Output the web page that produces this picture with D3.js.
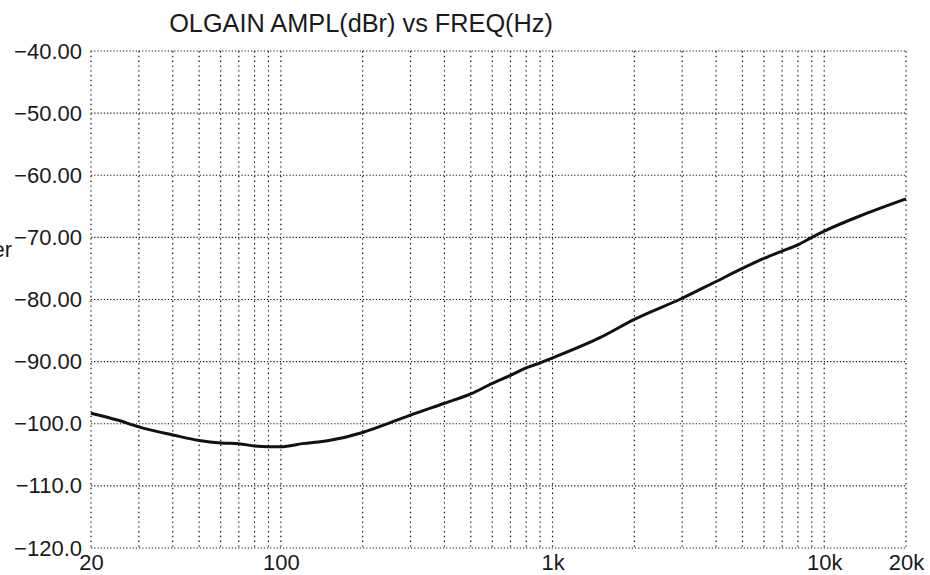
<!DOCTYPE html>
<html>
<head>
<meta charset="utf-8">
<script src="https://cdn.jsdelivr.net/npm/d3@7"></script>
<style>
  html, body { margin: 0; padding: 0; background: #fff; }
  svg { display: block; }
  text { font-family: "Liberation Sans", Arial, sans-serif; fill: #1a1a1a; }
</style>
</head>
<body>
<svg id="chart" width="930" height="575"></svg>
<script>
// ---- data ----
const title = "OLGAIN AMPL(dBr) vs FREQ(Hz)";
const freqHz = [20, 25, 30, 40, 50, 60, 70, 80, 90, 100, 120, 150, 200, 250, 300, 400, 500, 600, 700, 800, 900,
                1000, 1500, 2000, 3000, 4000, 5000, 6000, 7000, 8000, 9000, 10000, 14000, 20000];
const ampDbr = [-98.3, -99.4, -100.5, -101.8, -102.7, -103.1, -103.2, -103.6, -103.7, -103.7, -103.2, -102.7, -101.4,
                -99.9, -98.6, -96.7, -95.2, -93.5, -92.2, -91.0, -90.2,
                -89.4, -86.1, -83.2, -79.8, -77.1, -75.0, -73.4, -72.2, -71.2, -70.0, -69.0, -66.3, -63.8];
const yTicks = [-40, -50, -60, -70, -80, -90, -100, -110, -120];
const yTickLabels = ["\u221240.00", "\u221250.00", "\u221260.00", "\u221270.00", "\u221280.00", "\u221290.00",
                     "\u2212100.0", "\u2212110.0", "\u2212120.0"];
const xTicks = [20, 100, 1000, 10000, 20000];
const xTickLabels = ["20", "100", "1k", "10k", "20k"];
const xGrid = [20, 30, 40, 50, 60, 70, 80, 90, 100, 200, 300, 400, 500, 600, 700, 800, 900,
               1000, 2000, 3000, 4000, 5000, 6000, 7000, 8000, 9000, 10000, 20000];
const sideText = "er";

// ---- layout ----
const L = 91, R = 906, T = 51, B = 548;
const svg = d3.select("#chart");
const x = d3.scaleLog().domain([20, 20000]).range([L, R]);
const y = d3.scaleLinear().domain([-120, -40]).range([B, T]);

// grid
const grid = svg.append("g");
grid.selectAll("line.h").data(yTicks).join("line")
  .attr("class", "h")
  .attr("x1", L).attr("x2", R)
  .attr("y1", d => y(d)).attr("y2", d => y(d))
  .attr("stroke", "#111").attr("stroke-width", 1.1)
  .attr("stroke-dasharray", "1.2,2");
grid.selectAll("line.v").data(xGrid).join("line")
  .attr("class", "v")
  .attr("x1", d => x(d)).attr("x2", d => x(d))
  .attr("y1", T).attr("y2", B)
  .attr("stroke", "#111").attr("stroke-width", 1.2)
  .attr("stroke-dasharray", "1.4,3.4");

// axes
const yAxis = d3.axisLeft(y).tickValues(yTicks).tickSize(0).tickPadding(9)
  .tickFormat((d, i) => yTickLabels[i]);
const gy = svg.append("g").attr("transform", `translate(${L},0)`).call(yAxis);
gy.select(".domain").remove();
gy.selectAll("text").style("font-family", '"Liberation Sans", Arial, sans-serif')
  .style("font-size", "22px").attr("fill", "#1a1a1a");

const xAxis = d3.axisBottom(x).tickValues(xTicks).tickSize(0)
  .tickFormat((d, i) => xTickLabels[i]);
const gx = svg.append("g").attr("transform", `translate(0,${B})`).call(xAxis);
gx.select(".domain").remove();
gx.selectAll("text").attr("y", 22).attr("dy", 0)
  .style("font-family", '"Liberation Sans", Arial, sans-serif')
  .style("font-size", "22px").attr("fill", "#1a1a1a");

// title
svg.append("text").attr("x", 361).attr("y", 32).attr("text-anchor", "middle")
  .style("font-size", "25.3px").text(title);

// side clipped label
svg.append("text").attr("x", -7.5).attr("y", 257).style("font-size", "22px").text(sideText);

// curve
const line = d3.line().x((d, i) => x(freqHz[i])).y(d => y(d)).curve(d3.curveMonotoneX);
svg.append("path").datum(ampDbr).attr("d", line)
  .attr("fill", "none").attr("stroke", "#111").attr("stroke-width", 3)
  .attr("stroke-linecap", "butt");
</script>
</body>
</html>
